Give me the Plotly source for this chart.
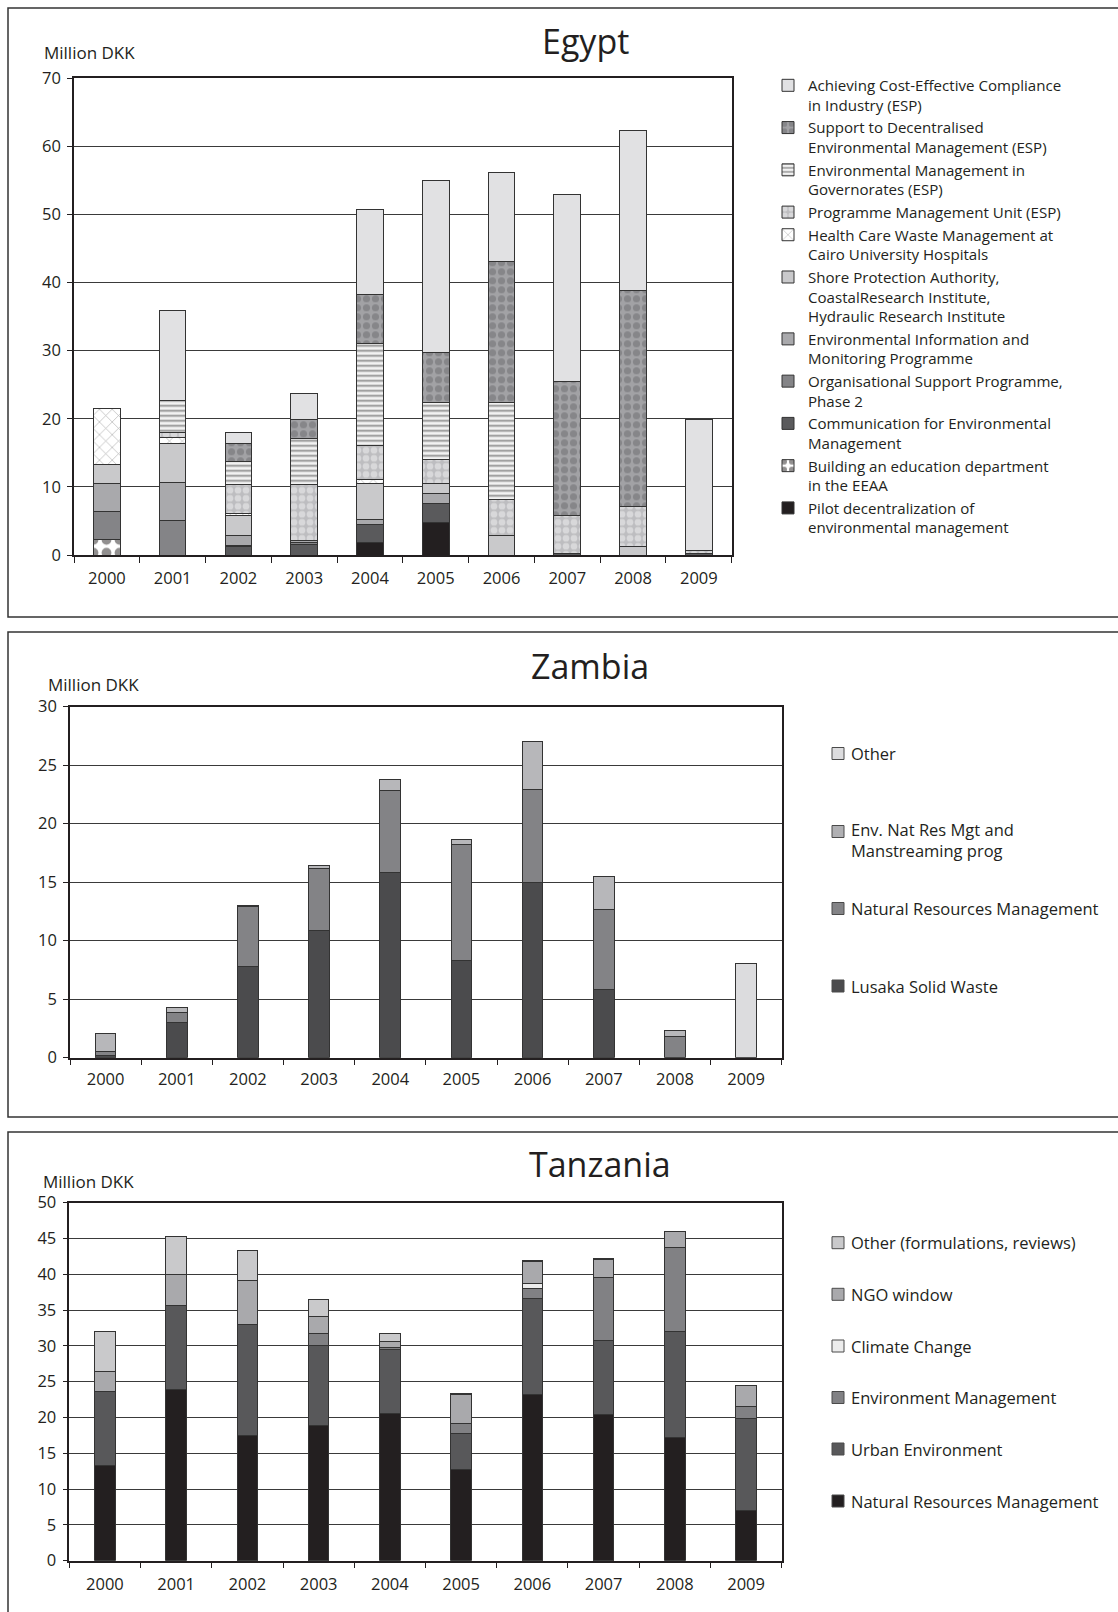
import plotly.graph_objects as go

W, H = 1118, 1612
FONT = "Open Sans"
INK = "#231f20"

years = ["2000", "2001", "2002", "2003", "2004", "2005", "2006", "2007", "2008", "2009"]

# ---------------- Egypt (Million DKK), stacked bottom to top ----------------
eg_pilot = [0, 0, 0, 0, 1.8, 4.75, 0, 0, 0, 0]
eg_building = [2.3, 0, 0, 0, 0, 0, 0, 0, 0, 0]
eg_communication = [0, 0, 1.2, 1.5, 2.75, 2.85, 0, 0.25, 0, 0.2]
eg_organisational = [4.05, 5.1, 0.25, 0.35, 0, 0, 0, 0, 0, 0]
eg_env_info = [4.15, 5.6, 1.45, 0.35, 0.7, 1.45, 0, 0, 0, 0]
eg_shore = [2.8, 5.7, 2.95, 0, 5.3, 1.45, 2.85, 0, 1.2, 0]
eg_health = [8.2, 0.8, 0.2, 0, 0.6, 0, 0, 0, 0, 0]
eg_pmu = [0, 0.8, 4.35, 8.1, 5.0, 3.5, 5.3, 5.5, 5.9, 0.4]
eg_governorates = [0, 4.75, 3.3, 6.85, 14.95, 8.4, 14.25, 0, 0, 0]
eg_decentralised = [0, 0, 2.7, 2.8, 7.2, 7.3, 20.75, 19.8, 31.7, 0]
eg_compliance = [0, 13.2, 1.6, 3.7, 12.5, 25.35, 13.05, 27.4, 23.5, 19.3]

# ---------------- Zambia ----------------
zm_lusaka = [0.15, 3.0, 7.8, 10.9, 15.85, 8.35, 15.0, 5.85, 0, 0]
zm_nrm = [0.35, 0.85, 5.1, 5.25, 6.95, 9.85, 7.9, 6.8, 1.8, 0]
zm_env_nat = [1.6, 0.45, 0.1, 0.25, 0.95, 0.45, 4.15, 2.8, 0.5, 0]
zm_other = [0, 0, 0, 0, 0, 0, 0, 0, 0, 8.05]

# ---------------- Tanzania ----------------
tz_nrm = [13.3, 23.85, 17.55, 18.95, 20.6, 12.8, 23.15, 20.35, 17.2, 6.95]
tz_urban = [10.4, 11.8, 15.5, 11.1, 8.95, 5.0, 13.5, 10.45, 14.8, 12.95]
tz_envmgmt = [0, 0, 0, 1.7, 0.25, 1.4, 1.4, 8.7, 11.8, 1.65]
tz_climate = [0, 0, 0, 0, 0, 0, 0.6, 0, 0, 0]
tz_ngo = [2.7, 4.3, 6.05, 2.35, 0.85, 3.95, 3.1, 2.55, 2.2, 2.9]
tz_other = [5.6, 5.35, 4.2, 2.4, 1.05, 0.25, 0.15, 0.15, 0, 0]


def fx(p):
    return p / W


def fy(p):
    return 1 - p / H


fig = go.Figure()
OUTLINE = dict(color="#333333", width=1)

# Egypt series: (values, legend text, fill colour, pattern)
egypt_series = [
    (eg_pilot, "Pilot decentralization of<br>environmental management", "#231f20", None),
    (eg_building, "Building an education department<br>in the EEAA", "#ffffff",
     dict(shape=".", fgcolor="#231f20", bgcolor="#ffffff", size=13, solidity=0.45, fillmode="overlay")),
    (eg_communication, "Communication for Environmental<br>Management", "#5a5a5c", None),
    (eg_organisational, "Organisational Support Programme,<br>Phase 2", "#848487", None),
    (eg_env_info, "Environmental Information and<br>Monitoring Programme", "#a9a9ac", None),
    (eg_shore, "Shore Protection Authority,<br>CoastalResearch Institute,<br>Hydraulic Research Institute",
     "#c9c9cb", None),
    (eg_health, "Health Care Waste Management at<br>Cairo University Hospitals", "#ffffff",
     dict(shape="x", fgcolor="#6a6a6a", bgcolor="#ffffff", size=9, solidity=0.15, fillmode="overlay")),
    (eg_pmu, "Programme Management Unit (ESP)", "#c4c4c6",
     dict(shape=".", fgcolor="#f4f4f4", bgcolor="#bdbdc0", size=8, solidity=0.55, fillmode="overlay")),
    (eg_governorates, "Environmental Management in<br>Governorates (ESP)", "#ffffff",
     dict(shape="-", fgcolor="#2a2a2a", bgcolor="#f2f2f2", size=5, solidity=0.35, fillmode="overlay")),
    (eg_decentralised, "Support to Decentralised<br>Environmental Management (ESP)", "#9c9c9f",
     dict(shape=".", fgcolor="#6a6a6d", bgcolor="#a2a2a5", size=9, solidity=0.5, fillmode="overlay")),
    (eg_compliance, "Achieving Cost-Effective Compliance<br>in Industry (ESP)", "#e1e1e3", None),
]

for vals, name, color, pattern in egypt_series:
    marker = dict(color=color, line=OUTLINE)
    if pattern:
        marker["pattern"] = pattern
    fig.add_trace(go.Bar(x=years, y=vals, name=name, marker=marker, width=0.405,
                         xaxis="x", yaxis="y", legend="legend"))

zambia_series = [
    (zm_lusaka, "Lusaka Solid Waste", "#4b4b4d"),
    (zm_nrm, "Natural Resources Management", "#838386"),
    (zm_env_nat, "Env. Nat Res Mgt and Manstreaming prog", "#b7b7ba"),
    (zm_other, "Other", "#dcdcde"),
]
for vals, name, color in zambia_series:
    fig.add_trace(go.Bar(x=years, y=vals, name=name, width=0.29, showlegend=False,
                         marker=dict(color=color, line=OUTLINE), xaxis="x2", yaxis="y2"))

tanzania_series = [
    (tz_nrm, "Natural Resources Management", "#231f20"),
    (tz_urban, "Urban Environment", "#58585a"),
    (tz_envmgmt, "Environment Management", "#818184"),
    (tz_climate, "Climate Change", "#ececec"),
    (tz_ngo, "NGO window", "#a9a9ac"),
    (tz_other, "Other (formulations, reviews)", "#c9c9cb"),
]
for vals, name, color in tanzania_series:
    fig.add_trace(go.Bar(x=years, y=vals, name=name, width=0.29, showlegend=False,
                         marker=dict(color=color, line=OUTLINE), xaxis="x3", yaxis="y3"))


def axes(suffix, xdom, ydom, ymax, dtick, standoff):
    tickfont = dict(family=FONT, size=16.5, color=INK)
    xa = dict(domain=xdom, type="category", anchor="y" + suffix, showline=True, mirror=True,
              linecolor=INK, linewidth=1.5, ticks="outside", tickson="boundaries", ticklen=6,
              tickcolor=INK, tickwidth=1.2, tickfont=tickfont, showgrid=False,
              ticklabelstandoff=standoff, fixedrange=True, automargin=False)
    ya = dict(domain=ydom, range=[0, ymax], dtick=dtick, anchor="x" + suffix, showline=True,
              mirror=True, linecolor=INK, linewidth=1.5, ticks="outside", ticklen=5,
              tickcolor=INK, tickwidth=1.2, tickfont=tickfont, showgrid=True,
              gridcolor="#3a3a3a", gridwidth=1.2, zeroline=False, ticklabelstandoff=3,
              fixedrange=True, automargin=False)
    return xa, ya


xa1, ya1 = axes("", [fx(74), fx(731.7)], [fy(555), fy(78.3)], 70, 10, 7)
xa2, ya2 = axes("2", [fx(70), fx(781.7)], [fy(1057.7), fy(706.7)], 30, 5, 6)
xa3, ya3 = axes("3", [fx(69.3), fx(781.7)], [fy(1560.7), fy(1202.7)], 50, 5, 8)

shapes = []
# panel frames
for top, bottom in [(8, 617), (632, 1117), (1132, 1640)]:
    shapes.append(dict(type="rect", xref="paper", yref="paper", x0=fx(8), x1=fx(1140),
                       y0=fy(bottom), y1=fy(top), line=dict(color="#333333", width=1.5),
                       fillcolor="rgba(0,0,0,0)", layer="below"))

annotations = []


def text(x, y, s, size, anchor="left"):
    annotations.append(dict(xref="paper", yref="paper", x=fx(x), y=fy(y), text=s,
                            showarrow=False, xanchor=anchor, yanchor="middle", align=anchor,
                            font=dict(family=FONT, size=size, color=INK)))


text(585, 41, "Egypt", 34, "center")
text(590, 666, "Zambia", 34, "center")
text(600, 1164, "Tanzania", 34, "center")
text(42, 52.5, "Million DKK", 17)
text(46, 684, "Million DKK", 17)
text(41, 1181.5, "Million DKK", 17)


def swatch(cy, color):
    shapes.append(dict(type="rect", xref="paper", yref="paper", x0=fx(832), x1=fx(844),
                       y0=fy(cy + 6), y1=fy(cy - 6), fillcolor=color,
                       line=dict(color="#4a4a4a", width=1)))


# Zambia key: (swatch centre, label centre, label, colour), top to bottom
zambia_key = [
    (753.5, 753.5, "Other", "#dcdcde"),
    (831.5, 839.5, "Env. Nat Res Mgt and<br>Manstreaming prog", "#b0b0b3"),
    (908.5, 908.5, "Natural Resources Management", "#838386"),
    (986, 986, "Lusaka Solid Waste", "#4b4b4d"),
]
for sy, ty, label, color in zambia_key:
    swatch(sy, color)
    text(849, ty, label, 16.5)

# Tanzania key (top to bottom)
tanzania_key = [
    (1242.7, "Other (formulations, reviews)", "#c9c9cb"),
    (1294.3, "NGO window", "#a9a9ac"),
    (1346, "Climate Change", "#ececec"),
    (1397.5, "Environment Management", "#818184"),
    (1449, "Urban Environment", "#58585a"),
    (1501, "Natural Resources Management", "#231f20"),
]
for cy, label, color in tanzania_key:
    swatch(cy, color)
    text(849, cy, label, 16.5)

fig.update_layout(
    width=W, height=H,
    margin=dict(l=0, r=0, t=0, b=0, autoexpand=False),
    paper_bgcolor="white", plot_bgcolor="white",
    barmode="stack",
    font=dict(family=FONT, color=INK),
    xaxis=xa1, yaxis=ya1, xaxis2=xa2, yaxis2=ya2, xaxis3=xa3, yaxis3=ya3,
    shapes=shapes, annotations=annotations,
    legend=dict(x=fx(768), y=fy(69), xanchor="left", yanchor="top", traceorder="reversed",
                valign="top", font=dict(family=FONT, size=15.1, color=INK),
                bgcolor="rgba(0,0,0,0)", itemwidth=30, itemclick=False, itemdoubleclick=False),
    showlegend=True,
)

# page body without the browser's default margin so the figure sits at the origin
fig.write_html("out.html", post_script="document.body.style.margin='0';")
